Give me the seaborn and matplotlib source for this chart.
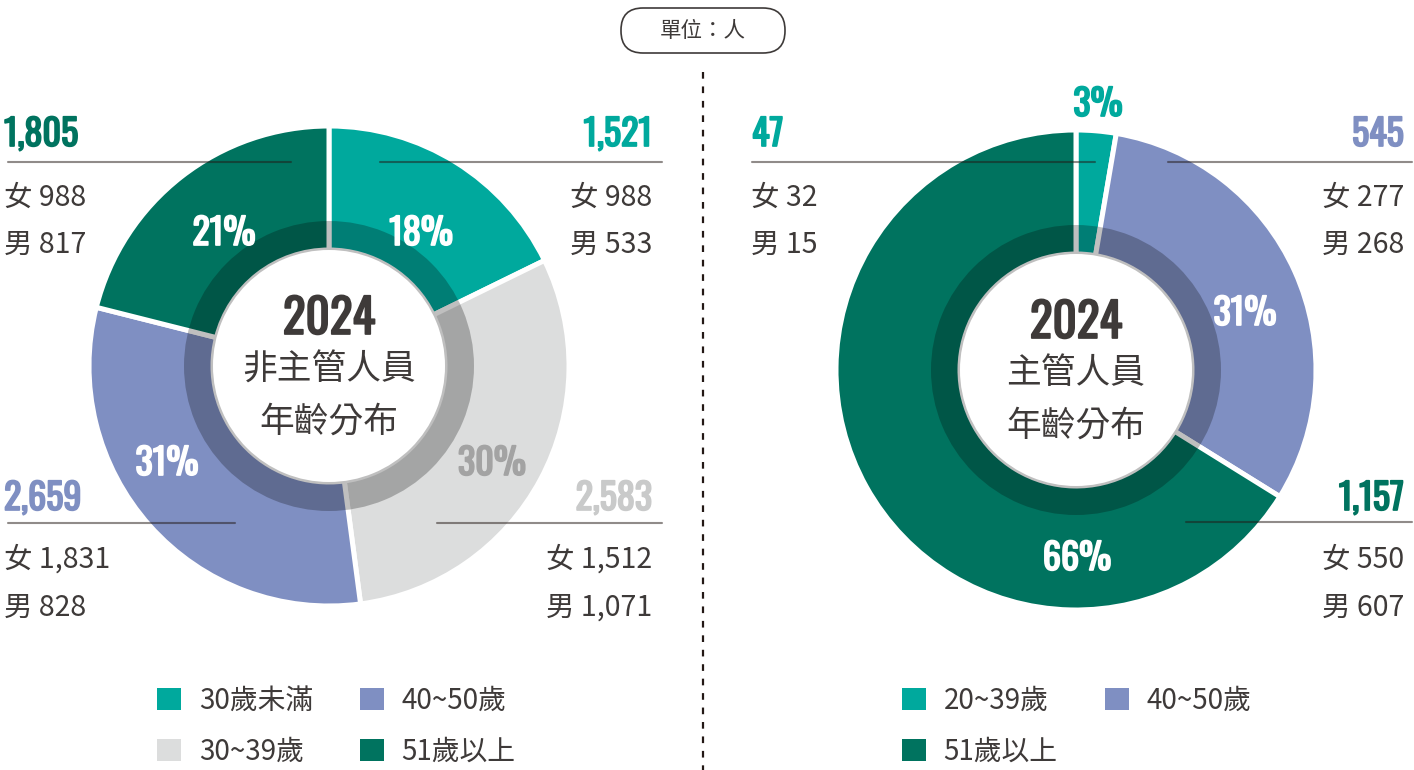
import numpy as np
import pandas as pd
import seaborn as sns
import matplotlib
matplotlib.use("Agg")
import matplotlib.pyplot as plt
import matplotlib.patheffects as pe
from matplotlib import font_manager as fm
from matplotlib.patches import Patch, Wedge, FancyBboxPatch

# ---------------- data ----------------
left_labels = ['30歲未滿', '30~39歲', '40~50歲', '51歲以上']
left_totals = [1521, 2583, 2659, 1805]
left_female = [988, 1512, 1831, 988]
left_male = [533, 1071, 828, 817]

right_labels = ['20~39歲', '40~50歲', '51歲以上']
right_totals = [47, 545, 1157]
right_female = [32, 277, 550]
right_male = [15, 268, 607]

left_title = ['2024', '非主管人員', '年齡分布']
right_title = ['2024', '主管人員', '年齡分布']
unit_text = '單位：人'

# ---------------- style ----------------
sns.set_theme(style="white")
CJK = ['Noto Sans CJK TC', 'DejaVu Sans']
plt.rcParams['font.family'] = CJK

names = {f.name for f in fm.fontManager.ttflist}
COND = next((n for n in ['Oswald', 'Barlow Condensed', 'Roboto Condensed',
                         'DejaVu Sans'] if n in names), 'DejaVu Sans')
COND_KW = dict(family=COND, weight=600)
if COND == 'DejaVu Sans':
    COND_KW['stretch'] = 'condensed'

TEAL = '#00a99d'
LGRAY = '#dcdddd'
BLUE = '#7f8fc2'
GREEN = '#00735f'
TXT = '#3e3a39'
palette_left = sns.color_palette([TEAL, LGRAY, BLUE, GREEN])
palette_right = sns.color_palette([TEAL, BLUE, GREEN])

W, H = 1414, 770
fig = plt.figure(figsize=(W / 100, H / 100), dpi=100)


def donut(cx, cy, values, colors):
    R = 240
    ax = fig.add_axes([(cx - R) / W, (H - cy - R) / H, 2 * R / W, 2 * R / H])
    ax.pie(values, colors=colors, startangle=90, counterclock=False, radius=1,
           wedgeprops=dict(width=(R - 116) / R, edgecolor='white', linewidth=3.6))
    band = Wedge((0, 0), 145 / R, 0, 360, width=(145 - 116) / R,
                 facecolor='black', alpha=0.25, edgecolor='none', zorder=5)
    ax.add_patch(band)
    ax.set_xlim(-1, 1)
    ax.set_ylim(-1, 1)
    ax.set_aspect('equal')
    ax.axis('off')
    return ax


donut(329, 366, left_totals, palette_left)
donut(1076, 370, right_totals, palette_right)

# overlay axes in pixel coordinates
ov = fig.add_axes([0, 0, 1, 1])
ov.set_xlim(0, W)
ov.set_ylim(H, 0)
ov.axis('off')

LINE = dict(color='#231815', alpha=0.5, lw=1.5, zorder=3)


def hline(x0, x1, y):
    ov.plot([x0, x1], [y, y], **LINE)


NS = 26   # big number size
PS = 26   # percent label size
TS = 34   # year size
STROKE = 1.25


def bold_text(x, y, s, color, ha, size):
    ov.text(x, y, s, color=color, ha=ha, va='baseline', fontsize=size,
            path_effects=[pe.withStroke(linewidth=STROKE, foreground=color)], **COND_KW)


def big(x, y, s, color, ha, size=NS):
    bold_text(x, y, s, color, ha, size)


def small(x, y, s, ha):
    ov.text(x, y, s, color=TXT, ha=ha, va='baseline', fontsize=20.5, family=CJK)


def pct(v, tot):
    return f"{round(v / sum(tot) * 100)}%"


# ---- left chart annotations ----
num_cols_left = [TEAL, '#c9caca', BLUE, GREEN]
# top-right: 30歲未滿
big(652, 146, f"{left_totals[0]:,}", num_cols_left[0], 'right')
small(652, 206, f"女 {left_female[0]:,}", 'right')
small(652, 253, f"男 {left_male[0]:,}", 'right')
hline(380, 662, 161.5)
# bottom-right: 30~39
big(652, 510, f"{left_totals[1]:,}", num_cols_left[1], 'right')
small(652, 568, f"女 {left_female[1]:,}", 'right')
small(652, 616, f"男 {left_male[1]:,}", 'right')
hline(437, 662, 523)
# bottom-left: 40~50
big(4, 510, f"{left_totals[2]:,}", num_cols_left[2], 'left')
small(4, 568, f"女 {left_female[2]:,}", 'left')
small(4, 616, f"男 {left_male[2]:,}", 'left')
hline(8, 235, 523)
# top-left: 51+
big(4, 146, f"{left_totals[3]:,}", num_cols_left[3], 'left')
small(4, 206, f"女 {left_female[3]:,}", 'left')
small(4, 253, f"男 {left_male[3]:,}", 'left')
hline(8, 291, 161.5)

# percent labels
big(421, 245, pct(left_totals[0], left_totals), 'white', 'center', PS)
big(492, 475, pct(left_totals[1], left_totals), '#a3a3a3', 'center', PS)
big(167, 475, pct(left_totals[2], left_totals), 'white', 'center', PS)
big(224, 245, pct(left_totals[3], left_totals), 'white', 'center', PS)

# center titles
bold_text(329, 334, left_title[0], TXT, 'center', TS)
ov.text(329, 370, left_title[1], color=TXT, ha='center', va='center', fontsize=25, family=CJK)
ov.text(329, 422, left_title[2], color=TXT, ha='center', va='center', fontsize=25, family=CJK)

# ---- right chart annotations ----
big(752, 146, f"{right_totals[0]:,}", TEAL, 'left')
small(751, 206, f"女 {right_female[0]:,}", 'left')
small(751, 253, f"男 {right_male[0]:,}", 'left')
hline(752, 1095, 162)

big(1404, 146, f"{right_totals[1]:,}", BLUE, 'right')
small(1404, 206, f"女 {right_female[1]:,}", 'right')
small(1404, 253, f"男 {right_male[1]:,}", 'right')
hline(1168, 1412, 162)

big(1404, 510, f"{right_totals[2]:,}", GREEN, 'right')
small(1404, 568, f"女 {right_female[2]:,}", 'right')
small(1404, 616, f"男 {right_male[2]:,}", 'right')
hline(1186, 1412, 522)

big(1098, 116, pct(right_totals[0], right_totals), TEAL, 'center', PS)
big(1245, 325, pct(right_totals[1], right_totals), 'white', 'center', PS)
big(1077, 570, pct(right_totals[2], right_totals), 'white', 'center', PS)

bold_text(1076, 338, right_title[0], TXT, 'center', TS)
ov.text(1076, 374, right_title[1], color=TXT, ha='center', va='center', fontsize=25, family=CJK)
ov.text(1076, 426, right_title[2], color=TXT, ha='center', va='center', fontsize=25, family=CJK)

# ---- unit pill + divider ----
pill = FancyBboxPatch((621 + 22, 8 + 22), 164 - 44, 1, boxstyle="round,pad=22,rounding_size=22",
                      facecolor='white', edgecolor=TXT, lw=1.2)
ov.add_patch(pill)
ov.text(703, 31, unit_text, color=TXT, ha='center', va='center', fontsize=15.5, family=CJK)
ov.plot([703, 703], [72, 770], color='#231815', lw=1.6, linestyle=(0, (3, 3.5)))

# ---- legends ----
leg_kw = dict(ncol=2, frameon=False, handlelength=0.85, handleheight=0.85,
              handletextpad=0.65, columnspacing=1.7, labelspacing=0.75,
              borderpad=0, borderaxespad=0, loc='upper left', bbox_transform=ov.transData,
              labelcolor=TXT, prop=dict(family=CJK, size=20))
h_left = [Patch(facecolor=c, edgecolor='none') for c in palette_left]
order_l = [0, 1, 2, 3]
leg1 = ov.legend([h_left[i] for i in order_l], [left_labels[i] for i in order_l],
                 bbox_to_anchor=(157, 686), **leg_kw)
ov.add_artist(leg1)
h_right = [Patch(facecolor=c, edgecolor='none') for c in palette_right]
order_r = [0, 2, 1]
leg2 = ov.legend([h_right[i] for i in order_r], [right_labels[i] for i in order_r],
                 bbox_to_anchor=(902, 686), **leg_kw)

fig.savefig('out.png', dpi=100, facecolor='white')
